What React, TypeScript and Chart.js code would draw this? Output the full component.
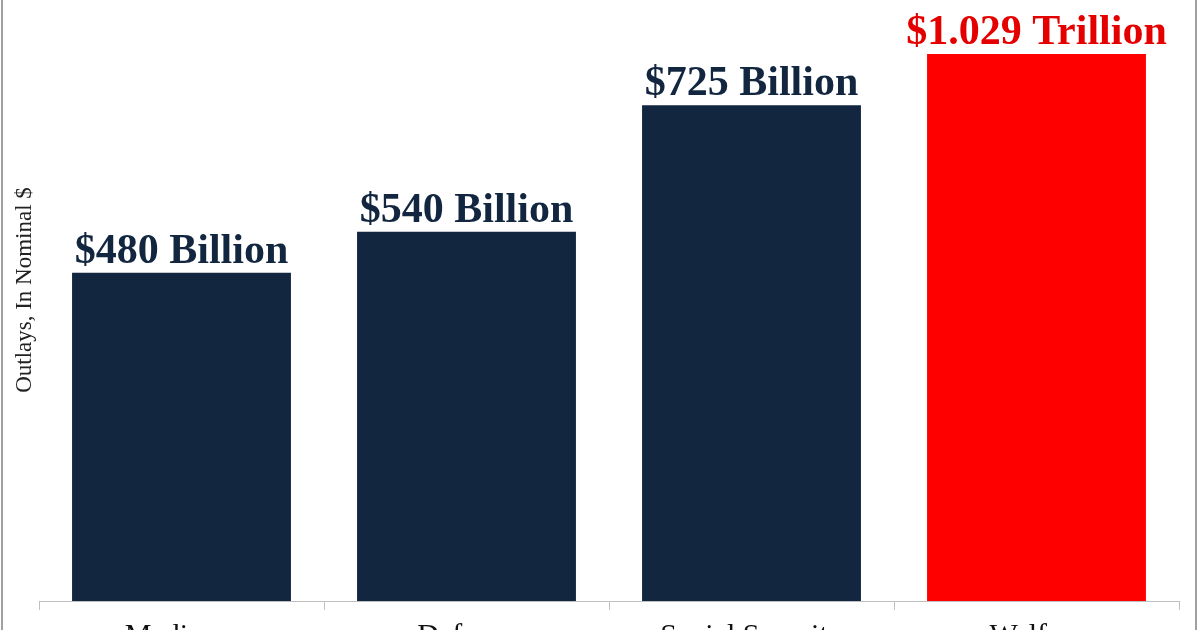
import { useEffect, useRef } from "react";
import { Chart, registerables, type ChartConfiguration, type Plugin } from "chart.js";

Chart.register(...registerables);

const categories = ["Medicare", "Defense", "Social Security", "Welfare"];
// outlays in billions of dollars
const outlays = [480, 540, 725, 1029];
const valueLabels = ["$480 Billion", "$540 Billion", "$725 Billion", "$1.029 Trillion"];
const barColors = ["#122640", "#122640", "#122640", "#FF0000"];
const labelColors = ["#122640", "#122640", "#122640", "#E50000"];
const yTitle = "Outlays, In Nominal $";

const SERIF = "'Liberation Serif', 'Times New Roman', serif";

// value text above each bar (bars taller than the axis are clipped at the top)
const barLabels: Plugin<"bar"> = {
  id: "barLabels",
  afterDatasetsDraw(chart) {
    const { ctx, chartArea } = chart;
    const meta = chart.getDatasetMeta(0);
    ctx.save();
    ctx.font = `bold 42px ${SERIF}`;
    ctx.textAlign = "center";
    ctx.textBaseline = "alphabetic";
    meta.data.forEach((bar, i) => {
      const top = Math.max(bar.y, chartArea.top);
      ctx.fillStyle = labelColors[i];
      ctx.fillText(valueLabels[i], bar.x, top - 10);
    });
    ctx.restore();
  },
};

const axisTitle: Plugin<"bar"> = {
  id: "axisTitle",
  afterDraw(chart) {
    const { ctx } = chart;
    ctx.save();
    ctx.translate(31, 290);
    ctx.rotate(-Math.PI / 2);
    ctx.font = `23px ${SERIF}`;
    ctx.fillStyle = "#222222";
    ctx.textAlign = "center";
    ctx.textBaseline = "alphabetic";
    ctx.fillText(yTitle, 0, 0);
    ctx.restore();
  },
};

function OutlaysChart() {
  const canvasRef = useRef<HTMLCanvasElement | null>(null);

  useEffect(() => {
    if (!canvasRef.current) return;

    const config: ChartConfiguration<"bar"> = {
      type: "bar",
      data: {
        labels: categories,
        datasets: [
          {
            data: outlays,
            backgroundColor: barColors,
            borderWidth: 0,
            categoryPercentage: 1,
            barPercentage: 0.768,
          },
        ],
      },
      options: {
        responsive: false,
        animation: false,
        devicePixelRatio: 1,
        layout: { padding: { left: 39, right: 21, top: 54, bottom: 1 } },
        plugins: {
          legend: { display: false },
          tooltip: { enabled: false },
        },
        scales: {
          x: {
            grid: {
              offset: true,
              drawOnChartArea: false,
              tickLength: 9,
              color: "#BFBFBF",
            },
            border: { display: true, color: "#BFBFBF", width: 1 },
            ticks: {
              color: "#111111",
              padding: 8,
              font: { family: SERIF, size: 30 },
            },
          },
          y: {
            display: false,
            min: 0,
            max: 800,
          },
        },
      },
      plugins: [barLabels, axisTitle],
    };

    const chart = new Chart(canvasRef.current, config);
    return () => {
      chart.destroy();
    };
  }, []);

  return (
    <div style={{ position: "relative", width: 1200, height: 630, overflow: "hidden", background: "#fff" }}>
      <canvas ref={canvasRef} width={1200} height={663} style={{ display: "block" }} />
      <div
        style={{
          position: "absolute",
          left: 1,
          top: 0,
          width: 1196,
          height: 630,
          boxSizing: "border-box",
          borderLeft: "2px solid #A0A0A0",
          borderRight: "2px solid #A0A0A0",
          pointerEvents: "none",
        }}
      />
    </div>
  );
}

export default function App() {
  useEffect(() => {
    document.body.style.margin = "0";
  }, []);
  return <OutlaysChart />;
}
